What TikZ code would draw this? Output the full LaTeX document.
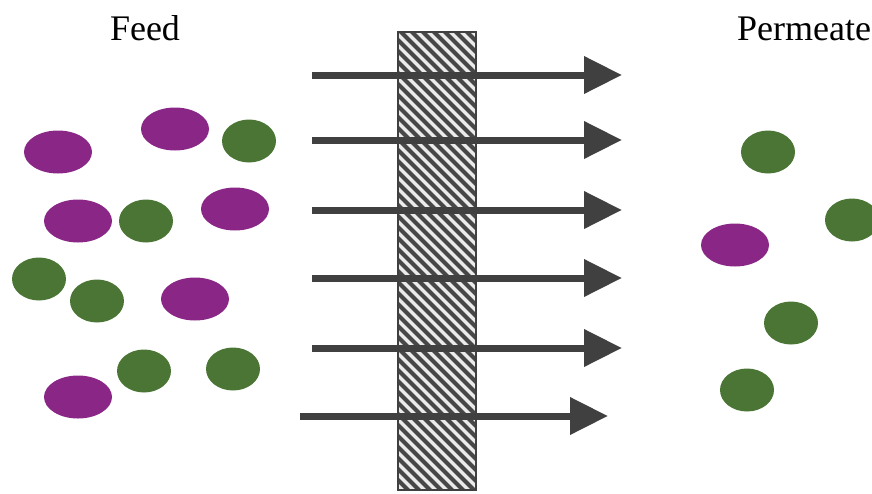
\documentclass[tikz,border=0pt]{standalone}
\usepackage{fontspec}
\setmainfont{Liberation Serif}
\usetikzlibrary{arrows.meta}
\definecolor{purp}{HTML}{8A2786}
\definecolor{grn}{HTML}{4A7534}
\definecolor{arr}{HTML}{404040}
\tikzset{
  flow/.style={draw=arr, line width=7pt, -{Triangle[length=38pt,width=36pt]}},
  lbl/.style={font=\fontsize{36}{40}\selectfont, inner sep=0pt, text=black}
}
\begin{document}
\begin{tikzpicture}[x=1pt,y=-1pt]
\useasboundingbox (0,0) rectangle (872,493);
% labels
\node[lbl, anchor=base] (feed) at (145,40) {Feed};
\node[lbl, anchor=base west] (perm) at (737,40) {Permeate};
% membrane
\begin{scope}
\clip (398,32) rectangle (476,490);
\fill[black!8] (398,32) rectangle (476,490);
\foreach \k in {-66,-55,...,540} {
  \draw[black!72, line width=4pt] (380,\k) -- (500,\k+120);
}
\end{scope}
\draw[black!75, line width=2pt] (398,32) rectangle (476,490);
% arrows
\foreach \i/\y/\xa/\xb in {1/75/312/622, 2/140/312/622, 3/210/312/622, 4/278/312/622, 5/348/312/622, 6/416/300/608} {
  \coordinate (s\i) at (\xa,\y);
  \coordinate (e\i) at (\xb,\y);
  \draw[flow] (s\i) -- (e\i);
}
% feed particles
\foreach \x/\y in {58/152, 175/129, 78/221, 235/209, 195/299, 78/397} {
  \fill[purp] (\x,\y) ellipse [x radius=34, y radius=21.5];
}
\foreach \x/\y in {249/141, 146/221, 39/279, 97/301, 144/371, 233/369} {
  \fill[grn] (\x,\y) ellipse [x radius=27, y radius=21.5];
}
% permeate particles
\fill[purp] (735,245) ellipse [x radius=34, y radius=21.5];
\foreach \x/\y in {768/152, 852/220, 791/323, 747/390} {
  \fill[grn] (\x,\y) ellipse [x radius=27, y radius=21.5];
}
\end{tikzpicture}
\end{document}
